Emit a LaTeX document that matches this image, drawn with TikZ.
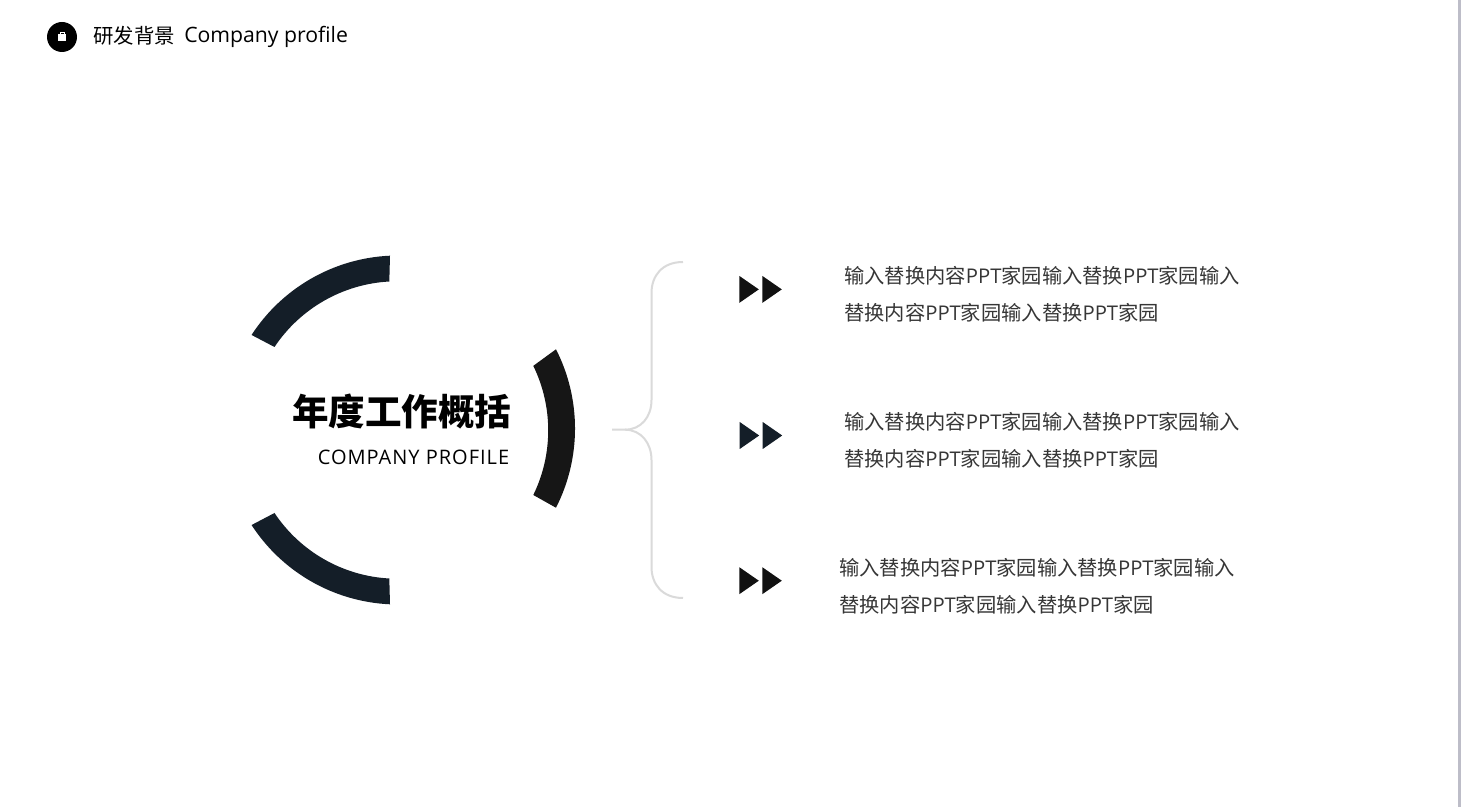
\documentclass[tikz,border=0pt]{standalone}
\usepackage{fontspec}
\setmainfont{Open Sans}
\newfontfamily\cjk{Noto Sans CJK SC}
\newfontfamily\spaced[LetterSpace=5]{Open Sans}
\definecolor{navy}{HTML}{141E28}
\definecolor{ink}{HTML}{111111}
\definecolor{arcblack}{HTML}{161616}
\definecolor{body}{HTML}{363636}
\definecolor{brace}{HTML}{DADADA}
\definecolor{sidebar}{HTML}{BDBDC8}
\newcommand{\blocktext}{{\cjk 输入替换内容}PPT{\cjk 家园输入替换}PPT{\cjk 家园输入}\\{\cjk 替换内容}PPT{\cjk 家园输入替换}PPT{\cjk 家园}}
\newcommand{\tri}[3]{\fill[#3] (#1,#2+13.5) -- (#1+19.5,#2) -- (#1,#2-13.5) -- cycle;\fill[#3] (#1+23,#2+13.5) -- (#1+42.5,#2) -- (#1+23,#2-13.5) -- cycle;}
\tikzset{
  x=0.75pt,y=0.75pt,
  blockstyle/.style={anchor=west,align=left,inner sep=0pt,text=body,font=\fontsize{15.2pt}{27.7pt}\selectfont},
}
\begin{document}
\begin{tikzpicture}
\useasboundingbox (0,0) rectangle (1461,807);
\fill[white] (0,0) rectangle (1461,807);
\fill[sidebar] (1458,0) rectangle (1461,807);
% header
\fill[black] (62,770) circle (15);
\fill[white] (58,766) rectangle (66,772.5);
\draw[white,line width=0.75pt] (60,772.5) -- (60,774) -- (64,774) -- (64,772.5);
\node[anchor=west,inner sep=0pt,font=\fontsize{15.3pt}{18pt}\selectfont] (head) at (93,771) {{\cjk 研发背景}};
\node[anchor=west,inner sep=0pt,font=\fontsize{15.9pt}{18pt}\selectfont] (headen) at (184,770.5) {Company profile};
% arcs
\fill[navy] (390,551.3) arc[start angle=92.6,end angle=147,radius=174.5] -- (274.5,460) arc[start angle=146.3,end angle=93.1,radius=147.6] -- cycle;
\fill[navy] (390,202.7) arc[start angle=-92.6,end angle=-147,radius=174.5] -- (274.5,294) arc[start angle=-146.3,end angle=-93.1,radius=147.6] -- cycle;
\fill[arcblack] (556,457.7) arc[start angle=27,end angle=-27,radius=174.5] -- (533.3,312) arc[start angle=-26,end angle=26,radius=147.3] -- cycle;
% title
\node[anchor=east,inner sep=0pt,font=\cjk\bfseries\fontsize{27.4pt}{30pt}\selectfont] (title) at (511.5,395) {年度工作概括};
\node[anchor=east,inner sep=0pt,font=\spaced\fontsize{15pt}{18pt}\selectfont] (sub) at (509.5,349.5) {COMPANY PROFILE};
% brace
\coordinate (bt) at (683,545);
\coordinate (bm) at (612,377.3);
\coordinate (bb) at (683,209);
\draw[brace,line width=1.5pt] (bt) .. controls (662,545) and (651.5,531) .. (651.5,514) -- (651.5,407) .. controls (651.5,390) and (641,377.3) .. (625,377.3) -- (bm);
\draw[brace,line width=1.5pt] (625,377.3) .. controls (641,377.3) and (651.5,364) .. (651.5,347) -- (651.5,240) .. controls (651.5,223) and (662,209) .. (bb);
% triangles
\tri{739.3}{517.6}{ink}
\tri{739.7}{371.5}{navy}
\tri{739.3}{226.3}{ink}
% text
\node[blockstyle] (t1) at (844,513) {\blocktext};
\node[blockstyle] (t2) at (844,367) {\blocktext};
\node[blockstyle] (t3) at (839,221) {\blocktext};
\end{tikzpicture}
\end{document}
